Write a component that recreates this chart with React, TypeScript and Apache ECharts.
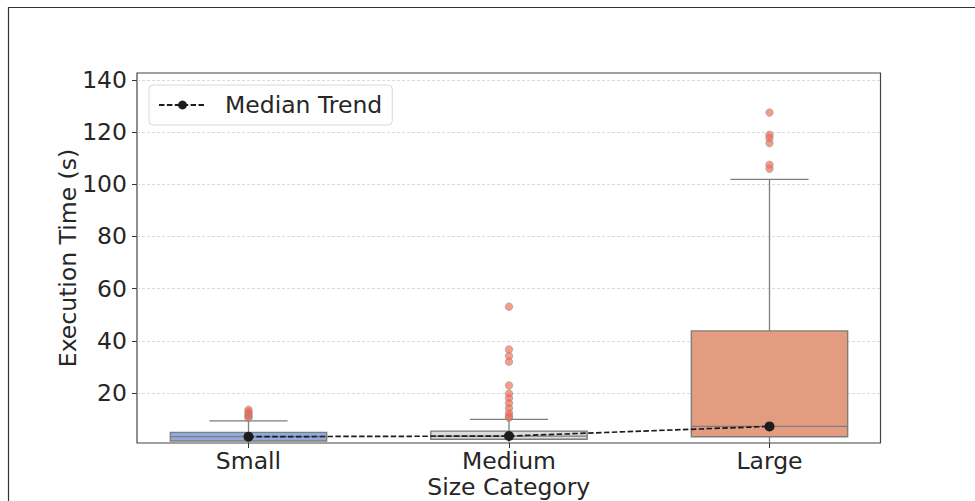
import React, { useEffect, useRef } from "react";
import * as echarts from "echarts";

// Size categories along the x axis
const categories = ["Small", "Medium", "Large"];

// Box summaries per category: [lower whisker, Q1, median, Q3, upper whisker]
const smallStats = [0.3, 1.6, 3.25, 4.9, 9.3];
const mediumStats = [0.3, 2.25, 3.5, 5.4, 9.9];
const largeStats = [0.4, 3.2, 7.2, 43.8, 101.9];

// Points beyond the whiskers
const smallOutliers = [10.4, 11.0, 11.5, 12.2, 12.8, 13.6];
const mediumOutliers = [10.5, 11.2, 12.3, 14.2, 16.1, 18.0, 19.8, 22.9, 32.0, 34.2, 36.7, 53.1];
const largeOutliers = [106.0, 107.5, 115.8, 117.8, 119.0, 127.5];

// Y axis tick values
const yTicks = [20, 40, 60, 80, 100, 120, 140];

const boxColors = ["#90aadb", "#dcdcdc", "#e49c81"];
const FONT = "DejaVu Sans";
const FS = 23.5;
const TEXT = "#262626";
const EDGE = "#7d7d7d";
const Y_MIN = 0.83;
const Y_MAX = 142.68;

export default function App() {
  const ref = useRef<HTMLDivElement>(null);

  useEffect(() => {
    if (!ref.current) return;
    const chart = echarts.init(ref.current, null, { renderer: "svg" });

    const stats = [smallStats, mediumStats, largeStats];
    const boxData = stats.map((s, i) => [i, ...s]);
    const outliers = [smallOutliers, mediumOutliers, largeOutliers];
    const outlierData: number[][] = [];
    outliers.forEach((list, i) => list.forEach((v) => outlierData.push([i, v])));
    const medians = stats.map((s) => s[2]);

    const option: any = {
      animation: false,
      backgroundColor: "#ffffff",
      textStyle: { fontFamily: FONT },
      graphic: [
        {
          type: "line",
          shape: { x1: 8, y1: 7.5, x2: 975, y2: 7.5 },
          style: { stroke: "#333333", lineWidth: 1.2 },
          silent: true,
        },
        {
          type: "line",
          shape: { x1: 8.5, y1: 7, x2: 8.5, y2: 501 },
          style: { stroke: "#333333", lineWidth: 1.2 },
          silent: true,
        },
      ],
      legend: {
        left: 149,
        top: 85,
        padding: [8, 10, 8, 9],
        itemWidth: 47,
        itemHeight: 11,
        backgroundColor: "#ffffff",
        borderColor: "#d9d9d9",
        borderWidth: 1,
        borderRadius: 4,
        textStyle: { fontSize: FS, color: TEXT, fontFamily: FONT, padding: [0, 0, 0, 14] },
        data: [{ name: "Median Trend" }],
      },
      grid: [
        {
          left: 137,
          top: 73,
          width: 743.5,
          height: 370,
          show: true,
          borderColor: "#444444",
          borderWidth: 1.2,
          backgroundColor: "transparent",
          outerBoundsMode: "none",
          containLabel: false,
        },
        {
          left: 118.25,
          top: 73,
          width: 781.5,
          height: 370,
          outerBoundsMode: "none",
          containLabel: false,
        },
      ],
      xAxis: [
        {
          type: "value",
          gridIndex: 0,
          min: 0,
          max: 1,
          axisLine: { show: false },
          axisTick: { show: false },
          axisLabel: { show: false },
          splitLine: { show: false },
          name: "Size Category",
          nameLocation: "middle",
          nameGap: 34,
          nameMoveOverlap: false,
          nameTextStyle: { fontSize: FS, color: TEXT, fontFamily: FONT, lineHeight: 20 },
        },
        {
          type: "category",
          gridIndex: 1,
          data: categories,
          boundaryGap: true,
          axisLine: { show: false },
          axisTick: {
            show: true,
            alignWithLabel: true,
            length: 5,
            lineStyle: { color: "#333333", width: 1 },
          },
          axisLabel: { fontSize: FS, color: TEXT, fontFamily: FONT, margin: 8, lineHeight: 20 },
          splitLine: { show: false },
        },
      ],
      yAxis: [
        {
          type: "value",
          gridIndex: 0,
          min: Y_MIN,
          max: Y_MAX,
          splitNumber: 7,
          axisLine: { show: false },
          axisTick: {
            show: true,
            length: 5,
            customValues: yTicks,
            lineStyle: { color: "#333333", width: 1 },
          },
          axisLabel: {
            fontSize: FS,
            color: TEXT,
            fontFamily: FONT,
            margin: 10,
            customValues: yTicks,
          },
          splitLine: {
            show: true,
            lineStyle: { color: "#d0d0d0", width: 0.8, type: [3, 2] },
          },
          name: "Execution Time (s)",
          nameLocation: "middle",
          nameGap: 57,
          nameMoveOverlap: false,
          nameTextStyle: { fontSize: FS, color: TEXT, fontFamily: FONT },
        },
        {
          type: "value",
          gridIndex: 1,
          min: Y_MIN,
          max: Y_MAX,
          show: false,
          splitLine: { show: false },
        },
      ],
      series: [
        {
          type: "custom",
          name: "boxes",
          xAxisIndex: 1,
          yAxisIndex: 1,
          z: 2,
          clip: true,
          encode: { x: 0, y: [1, 2, 3, 4, 5] },
          data: boxData,
          renderItem: (params: any, api: any) => {
            const idx = api.value(0);
            const band = api.size([1, 0], [idx, 0])[0];
            const halfBox = band * 0.3;
            const halfCap = band * 0.15;
            const pt = (v: number) => api.coord([idx, v]);
            const [cx, yMinRaw] = pt(api.value(1));
            // keep the lower whisker inside the plotting area
            const yFloor = pt(Y_MIN)[1];
            const yMin = Math.min(yMinRaw, yFloor);
            const yQ1 = pt(api.value(2))[1];
            const yMed = pt(api.value(3))[1];
            const yQ3 = pt(api.value(4))[1];
            const yMax = pt(api.value(5))[1];
            const ls = { stroke: EDGE, lineWidth: 1.3 };
            return {
              type: "group",
              children: [
                { type: "line", shape: { x1: cx, y1: yQ1, x2: cx, y2: yMin }, style: ls },
                { type: "line", shape: { x1: cx, y1: yQ3, x2: cx, y2: yMax }, style: ls },
                { type: "line", shape: { x1: cx - halfCap, y1: yMax, x2: cx + halfCap, y2: yMax }, style: ls },
                {
                  type: "rect",
                  shape: { x: cx - halfBox, y: yQ3, width: halfBox * 2, height: yQ1 - yQ3 },
                  style: { fill: boxColors[idx], stroke: EDGE, lineWidth: 1.4 },
                },
                { type: "line", shape: { x1: cx - halfBox, y1: yMed, x2: cx + halfBox, y2: yMed }, style: ls },
              ],
            };
          },
        },
        {
          type: "scatter",
          name: "outliers",
          xAxisIndex: 1,
          yAxisIndex: 1,
          z: 3,
          symbol: "circle",
          symbolSize: 7.5,
          itemStyle: {
            color: "rgba(245, 98, 72, 0.8)",
            borderColor: "rgba(150, 150, 150, 0.75)",
            borderWidth: 1,
          },
          data: outlierData,
        },
        {
          type: "line",
          name: "Median Trend",
          xAxisIndex: 1,
          yAxisIndex: 1,
          z: 4,
          data: medians,
          symbol: "circle",
          symbolSize: 10,
          itemStyle: { color: "#1c1c1c" },
          lineStyle: { color: "#1c1c1c", width: 1.7, type: [5.5, 2.4] },
        },
      ],
    };

    chart.setOption(option);
    return () => chart.dispose();
  }, []);

  return (
    <div
      ref={ref}
      style={{ position: "absolute", left: 0, top: 0, width: 975, height: 501 }}
    />
  );
}
